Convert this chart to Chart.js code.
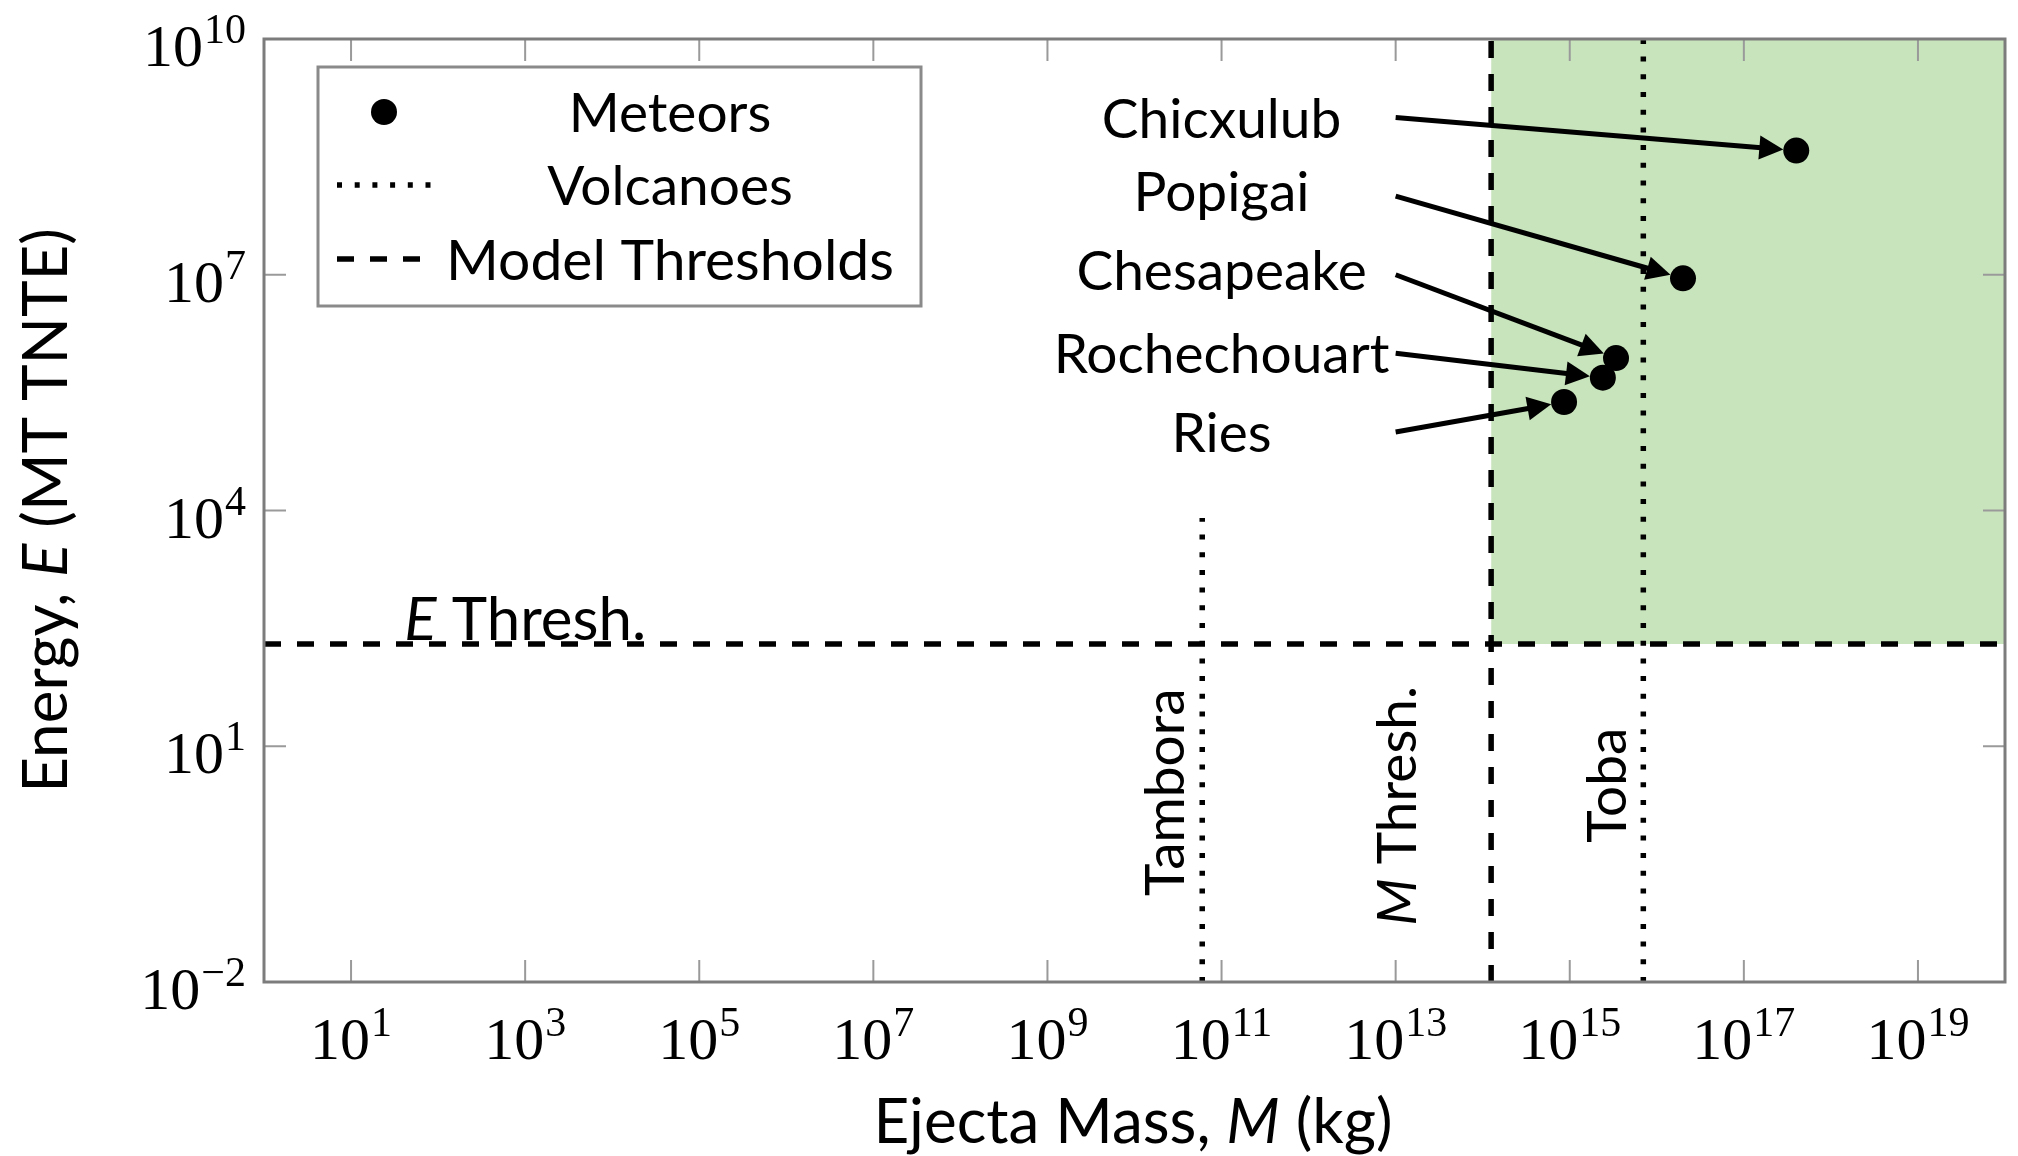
<!DOCTYPE html>
<html>
<head>
<meta charset="utf-8">
<script src="https://cdn.jsdelivr.net/npm/chart.js@4.4.0/dist/chart.umd.min.js"></script>
<style>
  html, body { margin: 0; padding: 0; background: #fff; }
  #wrap { width: 2018px; height: 1156px; position: relative; }
</style>
</head>
<body>
<div id="wrap"><canvas id="chart"></canvas></div>
<script>
// meteors (impact craters)
const meteorNames = ['Chicxulub', 'Popigai', 'Chesapeake', 'Rochechouart', 'Ries'];
const meteorMass = [4.0e17, 2.0e16, 3.4e15, 2.4e15, 8.6e14];
const meteorEnergy = [3.8e8, 9.0e6, 8.7e5, 4.9e5, 2.4e5];
const meteorLabelEnergy = [1e9, 1e8, 1e7, 1e6, 1e5];
const meteorLabelMass = 1e11;
const arrowStartMass = 1e13;

// volcanoes
const volcanoNames = ['Tambora', 'Toba'];
const volcanoMass = [6.0e10, 7.0e15];
const volcanoTopEnergy = [8e3, 1e10];

// model thresholds
const massThreshold = 1.25e14;
const energyThreshold = 2e2;

// axes
const xMin = 1, xMax = 1e20;
const yMin = 1e-2, yMax = 1e10;
const xTickValues = [1e1, 1e3, 1e5, 1e7, 1e9, 1e11, 1e13, 1e15, 1e17, 1e19];
const yTickValues = [1e-2, 1e1, 1e4, 1e7, 1e10];

const SANS = 'Lato, "Open Sans", sans-serif';
const SERIF = '"Liberation Serif", "DejaVu Serif", serif';
const LABEL_SIZE = 55;
const TITLE_SIZE = 62;
const GREEN = '#c8e4bc';

function setFont(ctx, size, italic, family) {
    ctx.font = (italic ? 'italic ' : '') + size + 'px ' + (family || SANS);
}

// text with italic pieces, bbox centered at (x, y)
function drawRich(ctx, parts, x, y, size, vAnchor) {
    let w = 0, asc = 0, desc = 0;
    parts.forEach(p => {
        setFont(ctx, size, p.i);
        const m = ctx.measureText(p.t);
        w += m.width;
        asc = Math.max(asc, m.actualBoundingBoxAscent);
        desc = Math.max(desc, m.actualBoundingBoxDescent);
    });
    let base = y + (asc - desc) / 2;
    if (vAnchor === 'bottom') base = y - desc;
    let cx = x - w / 2;
    ctx.textAlign = 'left';
    ctx.textBaseline = 'alphabetic';
    parts.forEach(p => {
        setFont(ctx, size, p.i);
        ctx.fillText(p.t, cx, base);
        cx += ctx.measureText(p.t).width;
    });
}

function drawPow(ctx, value, x, y, align) {
    const e = Math.round(Math.log10(value));
    const sup = e < 0 ? '\u2212' + (-e) : String(e);
    setFont(ctx, 60, false, SERIF);
    const wb = ctx.measureText('10').width;
    setFont(ctx, 42, false, SERIF);
    const ws = ctx.measureText(sup).width;
    const w = wb + ws + 1;
    const x0 = align === 'center' ? x - w / 2 : x - w;
    ctx.textAlign = 'left';
    ctx.textBaseline = 'alphabetic';
    setFont(ctx, 60, false, SERIF);
    ctx.fillText('10', x0, y);
    setFont(ctx, 42, false, SERIF);
    ctx.fillText(sup, x0 + wb + 1, y - 23);
}

function drawArrow(ctx, x1, y1, x2, y2) {
    const a = Math.atan2(y2 - y1, x2 - x1);
    const c = Math.cos(a), s = Math.sin(a);
    const len = 24, hw = 12;
    ctx.beginPath();
    ctx.moveTo(x1, y1);
    ctx.lineTo(x2 - len * 0.8 * c, y2 - len * 0.8 * s);
    ctx.stroke();
    ctx.beginPath();
    ctx.moveTo(x2, y2);
    ctx.lineTo(x2 - len * c + hw * s, y2 - len * s - hw * c);
    ctx.lineTo(x2 - len * c - hw * s, y2 - len * s + hw * c);
    ctx.closePath();
    ctx.fill();
}

const decorPlugin = {
    id: 'decor',
    afterDatasetsDraw(chart) {
        const ctx = chart.ctx;
        const xs = chart.scales.x, ys = chart.scales.y;
        const {left, right, top, bottom} = chart.chartArea;
        ctx.save();

        // 1. ticks inside + frame
        ctx.strokeStyle = '#9a9a9a';
        ctx.lineWidth = 2;
        ctx.beginPath();
        xs.ticks.forEach(t => {
            const px = xs.getPixelForValue(t.value);
            ctx.moveTo(px, bottom); ctx.lineTo(px, bottom - 22);
            ctx.moveTo(px, top); ctx.lineTo(px, top + 22);
        });
        ys.ticks.forEach(t => {
            const py = ys.getPixelForValue(t.value);
            ctx.moveTo(left, py); ctx.lineTo(left + 22, py);
            ctx.moveTo(right, py); ctx.lineTo(right - 22, py);
        });
        ctx.stroke();
        ctx.strokeStyle = '#7c7c7c';
        ctx.lineWidth = 3;
        ctx.strokeRect(left, top, right - left, bottom - top);

        // 2. tick labels
        ctx.fillStyle = '#000';
        xs.ticks.forEach(t => drawPow(ctx, t.value, xs.getPixelForValue(t.value), bottom + 77, 'center'));
        ys.ticks.forEach(t => drawPow(ctx, t.value, left - 18, ys.getPixelForValue(t.value) + 27, 'right'));

        // 3. axis titles
        drawRich(ctx, [{t: 'Ejecta Mass, '}, {t: 'M', i: true}, {t: ' (kg)'}], 1133, 1124, TITLE_SIZE);
        ctx.save();
        ctx.translate(48, (top + bottom) / 2);
        ctx.rotate(-Math.PI / 2);
        drawRich(ctx, [{t: 'Energy, '}, {t: 'E', i: true}, {t: ' (MT TNTE)'}], 0, 0, TITLE_SIZE);
        ctx.restore();

        // 4. meteor labels and arrows
        ctx.strokeStyle = '#000';
        ctx.lineWidth = 5;
        const meta = chart.getDatasetMeta(0);
        meteorNames.forEach((name, i) => {
            const ly = ys.getPixelForValue(meteorLabelEnergy[i]);
            ctx.fillStyle = '#000';
            drawRich(ctx, [{t: name}], xs.getPixelForValue(meteorLabelMass), ly, LABEL_SIZE);
            const pt = meta.data[i];
            const sx = xs.getPixelForValue(arrowStartMass);
            const a = Math.atan2(pt.y - ly, pt.x - sx);
            const r = 13;
            drawArrow(ctx, sx, ly, pt.x - r * Math.cos(a), pt.y - r * Math.sin(a));
        });

        // 5. vertical labels
        ctx.fillStyle = '#000';
        const sideLabels = [
            {parts: [{t: volcanoNames[0]}], x: 2.2e10, y: 2.6},
            {parts: [{t: 'M', i: true}, {t: ' Thresh.'}], x: 1e13, y: 1.74},
            {parts: [{t: volcanoNames[1]}], x: 2.6e15, y: 3.2}
        ];
        sideLabels.forEach(l => {
            ctx.save();
            ctx.translate(xs.getPixelForValue(l.x), ys.getPixelForValue(l.y));
            ctx.rotate(-Math.PI / 2);
            drawRich(ctx, l.parts, 0, 0, LABEL_SIZE);
            ctx.restore();
        });
        drawRich(ctx, [{t: 'E', i: true}, {t: ' Thresh.'}], xs.getPixelForValue(1e3), ys.getPixelForValue(energyThreshold) - 4, 60, 'bottom');

        // 6. legend
        const lx = 318, ly = 67, lw = 603, lh = 239;
        ctx.fillStyle = '#fff';
        ctx.fillRect(lx, ly, lw, lh);
        ctx.strokeStyle = '#8a8a8a';
        ctx.lineWidth = 3;
        ctx.strokeRect(lx, ly, lw, lh);
        const rows = [112, 185, 259];
        const textX = 670;
        ctx.fillStyle = '#000';
        ctx.beginPath();
        ctx.arc(384, rows[0], 13, 0, Math.PI * 2);
        ctx.fill();
        ctx.strokeStyle = '#000';
        ctx.lineWidth = 5.5;
        ctx.setLineDash([5, 12.7]);
        ctx.beginPath(); ctx.moveTo(337, rows[1]); ctx.lineTo(434, rows[1]); ctx.stroke();
        ctx.setLineDash([17, 16]);
        ctx.beginPath(); ctx.moveTo(337, rows[2]); ctx.lineTo(428, rows[2]); ctx.stroke();
        ctx.setLineDash([]);
        drawRich(ctx, [{t: 'Meteors'}], textX, rows[0], LABEL_SIZE);
        drawRich(ctx, [{t: 'Volcanoes'}], textX, rows[1], LABEL_SIZE);
        drawRich(ctx, [{t: 'Model Thresholds'}], textX, rows[2], 57);

        ctx.restore();
    }
};

const dotted = {borderColor: '#000', borderWidth: 5.5, borderDash: [5, 12.7], pointRadius: 0, fill: false};
const dashed = {borderColor: '#000', borderWidth: 5.5, borderDash: [17, 16], pointRadius: 0, fill: false};

new Chart(document.getElementById('chart'), {
    type: 'scatter',
    data: {
        datasets: [
            {
                label: 'Meteors',
                data: meteorMass.map((m, i) => ({x: m, y: meteorEnergy[i]})),
                backgroundColor: '#000',
                borderWidth: 0,
                pointRadius: 13,
                pointHoverRadius: 13,
                order: 1
            },
            ...volcanoMass.map((m, i) => Object.assign({
                type: 'line',
                label: 'Volcanoes',
                data: [{x: m, y: yMin}, {x: m, y: volcanoTopEnergy[i]}],
                order: 3
            }, dotted)),
            Object.assign({
                type: 'line',
                label: 'Model Thresholds',
                data: [{x: xMin, y: energyThreshold}, {x: xMax, y: energyThreshold}],
                order: 2
            }, dashed),
            Object.assign({
                type: 'line',
                label: 'Model Thresholds',
                data: [{x: massThreshold, y: yMin}, {x: massThreshold, y: yMax}],
                order: 2
            }, dashed),
            {
                type: 'line',
                label: 'Region',
                data: [{x: massThreshold, y: yMax}, {x: xMax, y: yMax}],
                borderWidth: 0,
                pointRadius: 0,
                backgroundColor: GREEN,
                fill: {value: energyThreshold},
                order: 5
            }
        ]
    },
    options: {
        responsive: true,
        maintainAspectRatio: false,
        devicePixelRatio: 1,
        animation: false,
        layout: {padding: {left: 264, right: 10, top: 39, bottom: 174}},
        plugins: {legend: {display: false}, tooltip: {enabled: false}},
        scales: {
            x: {
                type: 'logarithmic', min: xMin, max: xMax,
                grid: {display: false, drawTicks: false},
                border: {display: false},
                ticks: {display: false},
                afterBuildTicks: s => { s.ticks = xTickValues.map(v => ({value: v})); }
            },
            y: {
                type: 'logarithmic', min: yMin, max: yMax,
                grid: {display: false, drawTicks: false},
                border: {display: false},
                ticks: {display: false},
                afterBuildTicks: s => { s.ticks = yTickValues.map(v => ({value: v})); }
            }
        }
    },
    plugins: [decorPlugin]
});
</script>
</body>
</html>
